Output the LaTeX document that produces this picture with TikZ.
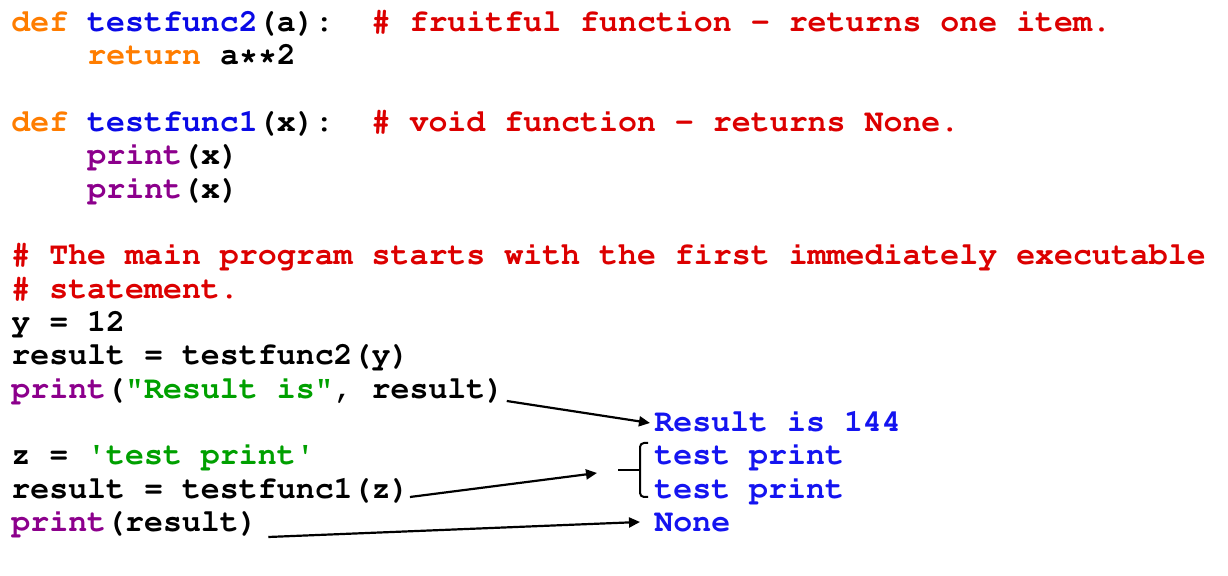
\documentclass[tikz,border=0pt]{standalone}
\usepackage[T1]{fontenc}
\renewcommand{\ttdefault}{pcr}
\usetikzlibrary{arrows.meta}
\definecolor{kwdcol}{RGB}{255,125,0}
\definecolor{fnccol}{RGB}{10,10,230}
\definecolor{cmtcol}{RGB}{220,0,0}
\definecolor{prtcol}{RGB}{140,0,140}
\definecolor{strcol}{RGB}{0,160,0}
\definecolor{outcol}{RGB}{20,20,240}
\newcommand{\kwd}[1]{\textcolor{kwdcol}{#1}}
\newcommand{\fnc}[1]{\textcolor{fnccol}{#1}}
\newcommand{\cmt}[1]{\textcolor{cmtcol}{#1}}
\newcommand{\prt}[1]{\textcolor{prtcol}{#1}}
\newcommand{\strg}[1]{\textcolor{strcol}{#1}}
\tikzset{
  code/.style={anchor=base west, inner sep=0pt, font=\fontsize{15.8}{16}\selectfont\ttfamily\bfseries\frenchspacing},
  output/.style={code, text=outcol},
  link/.style={-{Triangle[length=5.5pt,width=5pt]}, line width=1.1pt},
  brace/.style={line width=1pt, rounded corners=2pt}
}
\begin{document}
\begin{tikzpicture}[x=0.5pt,y=0.5pt]
                \useasboundingbox (0,0) rectangle (1228,-576);
                % code
                \node[code] (deftwo) at (11,-32) {\kwd{def} \fnc{testfunc2}(a):\hphantom{x} \cmt{\# fruitful function - returns one item.}};
                \node[code] (rettwo) at (87,-65) {\kwd{return} a**2};
                \node[code] (defone) at (11,-132) {\kwd{def} \fnc{testfunc1}(x):\hphantom{x} \cmt{\# void function - returns None.}};
                \node[code] (prxa) at (87,-165) {\prt{print}(x)};
                \node[code] (prxb) at (87,-199) {\prt{print}(x)};
                \node[code, text=cmtcol] (cmta) at (11,-265) {\# The main program starts with the first immediately executable};
                \node[code, text=cmtcol] (cmtb) at (11,-299) {\# statement.};
                \node[code] (yset) at (11,-332) {y = 12};
                \node[code] (restwo) at (11,-365) {result = testfunc2(y)};
                \node[code] (prres) at (11,-399) {\prt{print}(\strg{"Result is"}, result)};
                \node[code] (zset) at (11,-465) {z = \strg{\textquotesingle test print\textquotesingle}};
                \node[code] (resone) at (11,-499) {result = testfunc1(z)};
                \node[code] (prnone) at (11,-532) {\prt{print}(result)};
                % output
                \node[output] (outres) at (654,-432) {Result is 144};
                \node[output] (outtpa) at (654,-465) {test print};
                \node[output] (outtpb) at (654,-499) {test print};
                \node[output] (outnone) at (654,-532) {None};
                \draw [brace] (648,-443) -- (640,-443) -- (640,-497) -- (648,-497);
                \coordinate (tick) at (618,-470);
                \draw [brace] (tick) -- (640,-470);
                \coordinate (brkin) at (597,-473);
                % arrows
                \draw [link] ([shift={(2,-2)}]prres.base east) -- ([shift={(-4,9)}]outres.base west);
                \draw [link] ([shift={(0,2)}]resone.base east) -- (brkin);
                \draw [link] ([shift={(10,-5)}]prnone.base east) -- ([shift={(-14,10)}]outnone.base west);
            \end{tikzpicture}
\end{document}
